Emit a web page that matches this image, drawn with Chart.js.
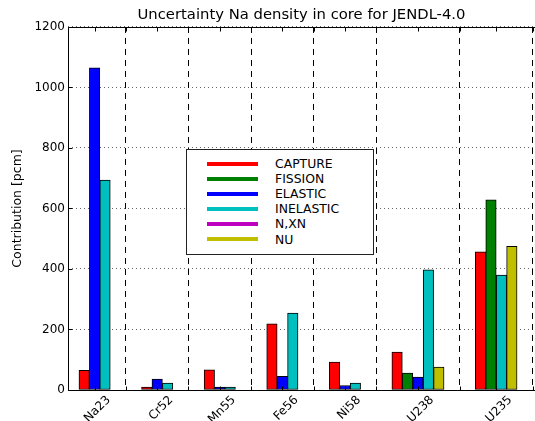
<!DOCTYPE html>
<html>
<head>
<meta charset="utf-8">
<script src="https://cdn.jsdelivr.net/npm/chart.js@4"></script>
<style>
  html, body { margin: 0; padding: 0; background: #fff; overflow: hidden; }
  #wrap { position: relative; width: 535px; height: 421px; }
  #legend {
    position: absolute; left: 186px; top: 149px; width: 188px; height: 106px;
    box-sizing: border-box; border: 1px solid #222; background: #fff;
    padding-top: 6px; font-family: 'DejaVu Sans', sans-serif; font-size: 12.4px; color: #000;
  }
  #legend .row { display: flex; align-items: center; height: 15.1px; }
  #legend .sw { width: 51px; height: 4px; margin-left: 20px; margin-right: 17px; }
</style>
</head>
<body>
<div id="wrap">
  <canvas id="grafico" width="535" height="421"></canvas>
  <div id="legend"></div>
</div>
<script>
// datos
const isotopes = ['Na23', 'Cr52', 'Mn55', 'Fe56', 'Ni58', 'U238', 'U235'];
const groupStart = [0, 6, 12, 18, 24, 30, 38];
const reactions = ['CAPTURE', 'FISSION', 'ELASTIC', 'INELASTIC', 'N,XN', 'NU'];
const colors = ['#ff0000', '#008000', '#0000ff', '#00bfbf', '#bf00bf', '#bfbf00'];

const capture   = [65, 10, 67, 219, 92, 125, 457];
const fission   = [0, 0, 0, 0, 0, 56, 629];
const elastic   = [1065, 36, 10, 45, 15, 43, 0];
const inelastic = [694, 23, 10, 254, 23, 397, 380];
const nxn       = [0, 0, 0, 0, 0, 0, 0];
const nu        = [0, 0, 0, 0, 0, 76, 475];

const yTicks = [0, 200, 400, 600, 800, 1000, 1200];

const series = [capture, fission, elastic, inelastic, nxn, nu];

// cada grupo solo tiene las barras distintas de cero, una al lado de la otra
var datasets = reactions.map(function(name, j) {
  return { label: name, data: [], backgroundColor: colors[j] };
});
var centers = [];
var separators = [];
isotopes.forEach(function(iso, i) {
  var k = 0;
  series.forEach(function(s, j) {
    if (s[i] > 0) {
      datasets[j].data.push({ x: groupStart[i] + k + 0.5, y: s[i] });
      k++;
    }
  });
  centers.push(groupStart[i] + k / 2);
  separators.push(groupStart[i] + k + 1.5);
});

// marco y ticks hacia adentro (estilo matplotlib)
const inwardTicks = {
  id: 'inwardTicks',
  afterDraw: function(chart) {
    var ctx = chart.ctx, a = chart.chartArea, sx = chart.scales.x, sy = chart.scales.y;
    var l = Math.round(a.left) + 0.5, r = Math.round(a.right) + 0.5;
    var t = Math.round(a.top) + 0.5, b = Math.round(a.bottom) + 0.5;
    ctx.save();
    ctx.strokeStyle = '#000';
    ctx.lineWidth = 1;
    ctx.setLineDash([]);
    ctx.beginPath();
    ctx.moveTo(r + 2, t); ctx.lineTo(l, t); ctx.lineTo(l, b); ctx.lineTo(r + 2, b);
    sx.ticks.forEach(function(tk, i) {
      var px = Math.round(sx.getPixelForTick(i)) + 0.5;
      ctx.moveTo(px, b); ctx.lineTo(px, b - 4);
      ctx.moveTo(px, t); ctx.lineTo(px, t + 4);
    });
    sy.ticks.forEach(function(tk, i) {
      var py = Math.round(sy.getPixelForTick(i)) + 0.5;
      ctx.moveTo(l, py); ctx.lineTo(l + 4, py);
    });
    ctx.stroke();
    ctx.restore();
  }
};

var font = { family: 'DejaVu Sans', size: 12 };

var chart = new Chart(document.getElementById('grafico').getContext('2d'), {
  type: 'bar',
  data: { datasets: datasets },
  options: {
    responsive: false,
    animation: false,
    grouped: false,
    barPercentage: 1,
    categoryPercentage: 1,
    borderWidth: 1,
    borderColor: '#000',
    borderSkipped: false,
    layout: { padding: 0 },
    plugins: {
      legend: { display: false },
      tooltip: { enabled: false },
      title: {
        display: true,
        fullSize: false,
        text: 'Uncertainty Na density in core for JENDL-4.0',
        color: '#000',
        font: { family: 'DejaVu Sans', size: 14.8, weight: 'normal' },
        padding: { top: 6, bottom: 3.2 }
      }
    },
    scales: {
      x: {
        type: 'linear',
        offset: false,
        min: -1.05,
        max: 43.72,
        afterBuildTicks: function(s) {
          s.ticks = centers.concat(separators).sort(function(a, b) { return a - b; })
            .map(function(v) { return { value: v }; });
        },
        afterFit: function(s) {
          s.height = 31;
          s.paddingLeft = 0;
          s.paddingRight = 0;
        },
        ticks: {
          autoSkip: false,
          minRotation: 45,
          maxRotation: 45,
          padding: 3,
          labelOffset: 14,
          color: '#000',
          font: font,
          callback: function(v) {
            var i = centers.indexOf(v);
            return i >= 0 ? isotopes[i] : '';
          }
        },
        grid: {
          offset: false,
          drawTicks: false,
          lineWidth: 1,
          color: function(c) {
            return c.tick && separators.indexOf(c.tick.value) >= 0 ? '#000' : 'rgba(0,0,0,0)';
          }
        },
        border: { display: false, dash: [6, 5] }
      },
      y: {
        min: 0,
        max: 1200,
        afterBuildTicks: function(s) {
          s.ticks = yTicks.map(function(v) { return { value: v }; });
        },
        afterFit: function(s) {
          s.width = 68;
          s.paddingTop = 0;
          s.paddingBottom = 0;
        },
        ticks: {
          padding: 3,
          color: '#000',
          font: font,
          callback: function(v) { return String(v); }
        },
        grid: { drawTicks: false, color: 'rgba(0,0,0,0.6)', lineWidth: 1 },
        border: { display: false, dash: [1, 3] },
        title: {
          display: true,
          text: 'Contribution [pcm]',
          color: '#000',
          font: { family: 'DejaVu Sans', size: 12.5 },
          padding: { top: 10.5, bottom: 0 }
        }
      }
    }
  },
  plugins: [inwardTicks]
});

// leyenda
var leg = document.getElementById('legend');
reactions.forEach(function(name, j) {
  var row = document.createElement('div');
  row.className = 'row';
  var sw = document.createElement('span');
  sw.className = 'sw';
  sw.style.background = colors[j];
  var txt = document.createElement('span');
  txt.textContent = name;
  row.appendChild(sw);
  row.appendChild(txt);
  leg.appendChild(row);
});
</script>
</body>
</html>
